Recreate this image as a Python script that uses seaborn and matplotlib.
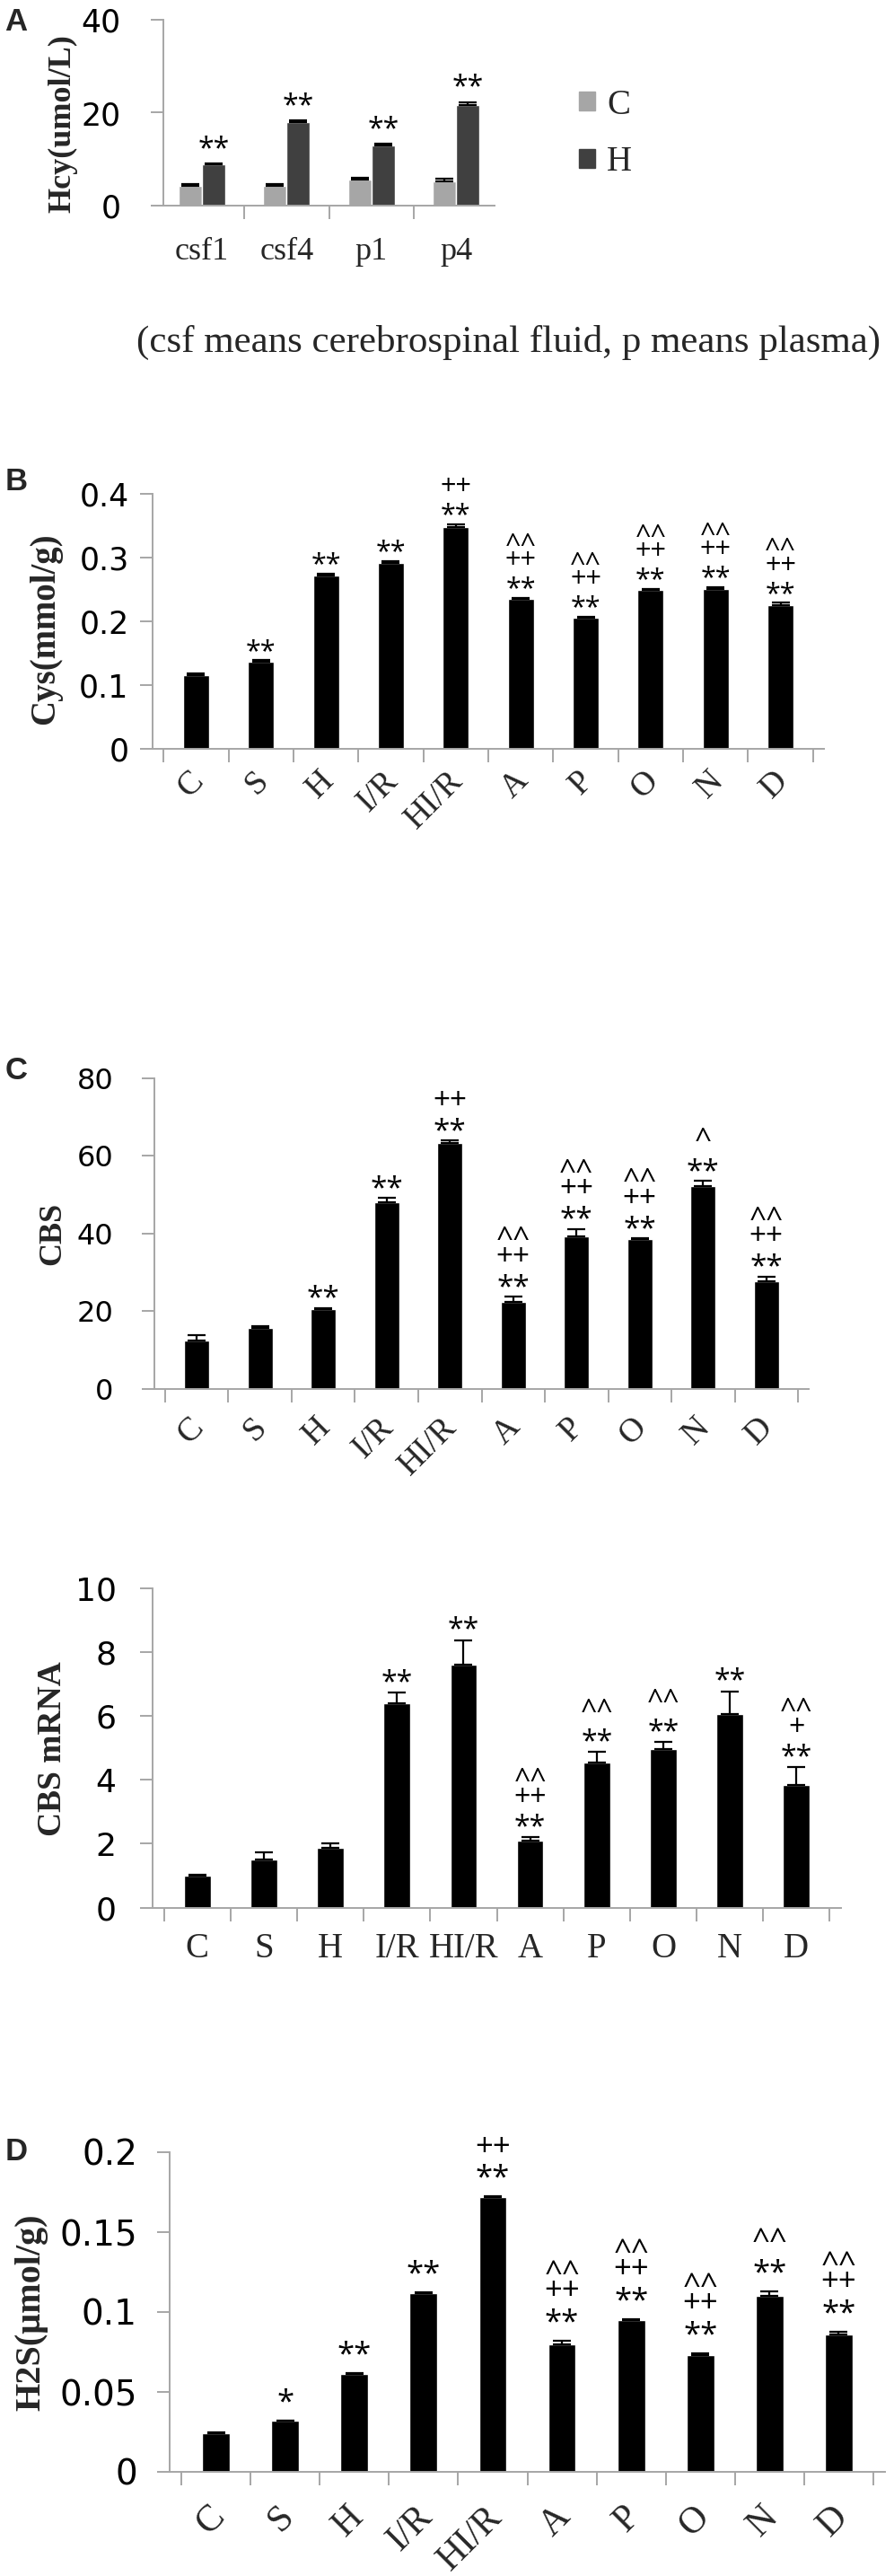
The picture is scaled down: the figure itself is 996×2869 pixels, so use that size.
import numpy as np
import pandas as pd
import matplotlib
matplotlib.use("Agg")
import matplotlib.pyplot as plt
import matplotlib.transforms as mtransforms
from matplotlib.patches import Patch
from matplotlib.font_manager import FontProperties
from matplotlib.textpath import TextPath
import seaborn as sns

sns.set_theme(style="white")
plt.rcParams['font.family'] = ['DejaVu Sans']

SERIF = 'Liberation Serif'
MARK_FONT = 'Open Sans'
W, H = 996, 2869
GRAY = '#a6a6a6'

# ---- panel A data ----
A_SAMPLES = ["csf1", "csf4", "p1", "p4"]
A_C = [4.3, 4.3, 5.7, 5.2]
A_C_ERR = [0.25, 0.25, 0.25, 0.6]
A_H = [8.8, 17.9, 12.9, 21.7]
A_H_ERR = [0.25, 0.45, 0.4, 0.6]
A_SIG = ["**", "**", "**", "**"]
A_YTICKS = [0, 20, 40]
A_CAPTION = "(csf means cerebrospinal fluid, p means plasma)"

# ---- shared groups ----
GROUPS = ["C", "S", "H", "I/R", "HI/R", "A", "P", "O", "N", "D"]

# ---- panel B: Cys ----
B_VALUES = [0.116, 0.136, 0.272, 0.292, 0.348, 0.235, 0.205, 0.249, 0.251, 0.226]
B_ERR = [0.002, 0.003, 0.003, 0.003, 0.004, 0.002, 0.002, 0.002, 0.003, 0.003]
B_SIG = ["", "**", "**", "**", "++\n**", "^^\n++\n**", "^^\n++\n**",
         "^^\n++\n**", "^^\n++\n**", "^^\n++\n**"]
B_YTICKS = [0, 0.1, 0.2, 0.3, 0.4]
B_YLABELS = ["0", "0.1", "0.2", "0.3", "0.4"]

# ---- panel C: CBS ----
C_VALUES = [12.5, 15.7, 20.5, 48.0, 63.3, 22.3, 39.2, 38.5, 52.1, 27.7]
C_ERR = [1.4, 0.5, 0.4, 1.1, 0.6, 1.5, 2.0, 0.3, 1.4, 1.2]
C_SIG = ["", "", "**", "**", "++\n**", "^^\n++\n**", "^^\n++\n**",
         "^^\n++\n**", "^\n**", "^^\n++\n**"]
C_YTICKS = [0, 20, 40, 60, 80]

# ---- panel C (lower): CBS mRNA ----
M_VALUES = [1.0, 1.5, 1.88, 6.39, 7.6, 2.1, 4.55, 4.95, 6.05, 3.84]
M_ERR = [0.03, 0.23, 0.14, 0.33, 0.77, 0.1, 0.33, 0.23, 0.72, 0.55]
M_SIG = ["", "", "", "**", "**", "^^\n++\n**", "^^\n**", "^^\n**", "**", "^^\n+\n**"]
M_YTICKS = [0, 2, 4, 6, 8, 10]

# ---- panel D: H2S ----
D_VALUES = [0.024, 0.0318, 0.0614, 0.112, 0.1718, 0.080, 0.095, 0.0732, 0.110, 0.0857]
D_ERR = [0.0005, 0.0005, 0.0005, 0.0005, 0.0005, 0.002, 0.0005, 0.001, 0.003, 0.002]
D_SIG = ["", "*", "**", "**", "++\n**", "^^\n++\n**", "^^\n++\n**",
         "^^\n++\n**", "^^\n**", "^^\n++\n**"]
D_YTICKS = [0, 0.05, 0.1, 0.15, 0.2]
D_YLABELS = ["0", "0.05", "0.1", "0.15", "0.2"]

MARK_PROP = FontProperties(family=MARK_FONT)
_lp = TextPath((0, 0), "lp", size=1, prop=MARK_PROP).get_extents()
LP_ASC, LP_DESC = _lp.y1, -_lp.y0


def ink_mid(glyph):
    # vertical middle of a glyph's ink, in em
    ext = TextPath((0, 0), glyph, size=1, prop=MARK_PROP).get_extents()
    return (ext.y0 + ext.y1) / 2


def px_rect(left, right, y_zero, y_top):
    return [left / W, 1 - y_zero / H, (right - left) / W, (y_zero - y_top) / H]


def style_axis(ax, n, yticks, ylabels, ysize, ypad):
    for side in ['top', 'right']:
        ax.spines[side].set_visible(False)
    for side in ['left', 'bottom']:
        ax.spines[side].set_color(GRAY)
        ax.spines[side].set_linewidth(1.4)
    ax.set_yticks(yticks, ylabels)
    ax.set_ylim(yticks[0], yticks[-1])
    ax.set_xticks(np.arange(n + 1) - 0.5, minor=True)
    ax.tick_params(axis='y', left=True, direction='out', length=10, width=1.4,
                   color=GRAY, labelsize=ysize, pad=ypad, labelcolor='black')
    ax.tick_params(axis='x', which='major', bottom=True, length=0)
    ax.tick_params(axis='x', which='minor', bottom=True, direction='out',
                   length=11, width=1.4, color=GRAY)
    ax.set_xlabel('')
    ax.set_ylabel('')


def set_xlabels(fig, ax, labels, size, pad, rotate=False, dx=0):
    ax.set_xticks(np.arange(len(labels)), labels)
    ax.tick_params(axis='x', which='major', pad=pad, labelsize=size)
    offset = mtransforms.ScaledTranslation(dx / 100, 0, fig.dpi_scale_trans)
    for lab in ax.get_xticklabels():
        lab.set_fontfamily(SERIF)
        if rotate:
            lab.set_rotation(45)
            lab.set_ha('right')
            lab.set_va('center')
            lab.set_rotation_mode('anchor')
            lab.set_transform(lab.get_transform() + offset)


def add_errors(ax, bars, errs):
    xs = [b.get_x() + b.get_width() / 2 for b in bars]
    tops = [b.get_height() for b in bars]
    ax.errorbar(xs, tops, yerr=[np.zeros(len(errs)), errs], fmt='none',
                ecolor='black', elinewidth=1.6, capsize=7, capthick=1.6, zorder=3)
    return xs, [t + e for t, e in zip(tops, errs)]


def add_marks(ax, xs, tops, sigs, size, first, g1, g2):
    # first: px from error-bar top to the centre of the lowest mark line
    # g1: px between lowest and second line centres, g2: between the upper ones
    f = size * 100 / 72
    kw = dict(textcoords='offset pixels', ha='center', fontsize=size,
              family=MARK_FONT, color='black')
    for x, top, sig in zip(xs, tops, sigs):
        if not sig:
            continue
        lines = sig.split("\n")
        low = lines[-1]
        base0 = first - ink_mid(low[0]) * f
        ax.annotate(low, (x, top), xytext=(0, base0), va='baseline', **kw)
        rest = lines[:-1]
        if not rest:
            continue
        want = first + g1 - ink_mid(rest[-1][0]) * f
        base1 = max(want, base0 + (LP_ASC + LP_DESC) * f + 1)
        spacing = 1.0
        if len(rest) > 1:
            step = g2 - (ink_mid(rest[0][0]) - ink_mid(rest[1][0])) * f
            spacing = (step - LP_DESC * f) / (LP_ASC * f)
        ax.annotate("\n".join(rest), (x, top), xytext=(0, base1 - LP_DESC * f),
                    va='bottom', multialignment='center', linespacing=spacing, **kw)


def bar_panel(fig, rect, values, errs, sigs, yticks, ylabels, ysize, ypad,
              xsize, xpad, rotate, dx, msize, first, g1, g2):
    ax = fig.add_axes(rect)
    df = pd.DataFrame({'group': GROUPS, 'value': values})
    sns.barplot(data=df, x='group', y='value', color='black', saturation=1,
                width=0.4, errorbar=None, ax=ax)
    style_axis(ax, len(GROUPS), yticks, ylabels, ysize, ypad)
    set_xlabels(fig, ax, GROUPS, xsize, xpad, rotate=rotate, dx=dx)
    xs, tops = add_errors(ax, ax.containers[0], errs)
    add_marks(ax, xs, tops, sigs, msize, first, g1, g2)
    return ax


def side_text(fig, x, y, text, size, rotation=0, bold=True, family=SERIF):
    fig.text(x / W, 1 - y / H, text, rotation=rotation, ha='center', va='center',
             fontsize=size, family=family, fontweight='bold' if bold else 'normal')


fig = plt.figure(figsize=(W / 100, H / 100), dpi=100)

# ---------------- panel A ----------------
ax_a = fig.add_axes(px_rect(182, 551, 229, 22))
df_a = pd.DataFrame({'sample': A_SAMPLES * 2,
                     'group': ['C'] * len(A_SAMPLES) + ['H'] * len(A_SAMPLES),
                     'value': A_C + A_H})
sns.barplot(data=df_a, x='sample', y='value', hue='group',
            palette={'C': '#a6a6a6', 'H': '#404040'}, saturation=1,
            width=0.55, errorbar=None, legend=False, ax=ax_a)
style_axis(ax_a, len(A_SAMPLES), A_YTICKS, [str(t) for t in A_YTICKS], 25, 24)
set_xlabels(fig, ax_a, A_SAMPLES, 26, 25)
add_errors(ax_a, ax_a.containers[0], A_C_ERR)
xs_h, tops_h = add_errors(ax_a, ax_a.containers[1], A_H_ERR)
add_marks(ax_a, xs_h, tops_h, A_SIG, 23, 24, 22, 22)
ax_a.legend([Patch(color='#a6a6a6'), Patch(color='#404040')], ['C', 'H'],
            loc='center left', bbox_to_anchor=(645 / W, 1 - 149 / H),
            bbox_transform=fig.transFigure, frameon=False, borderpad=0,
            borderaxespad=0, handlelength=0.45, handleheight=0.45,
            handletextpad=0.35, labelspacing=0.68,
            prop={'family': SERIF, 'size': 28})
side_text(fig, 70, 138, 'Hcy(umol/L)', 26, rotation=90)
side_text(fig, 18, 25, 'A', 25, family='Liberation Sans')
side_text(fig, 567, 381, A_CAPTION, 31, bold=False)

# ---------------- panel B ----------------
bar_panel(fig, px_rect(170, 918, 834, 550), B_VALUES, B_ERR, B_SIG,
          B_YTICKS, B_YLABELS, 25, 9, 27, 22, True, 3, 22, 18, 19, 22)
side_text(fig, 51, 700, 'Cys(mmol/g)', 28, rotation=90)
side_text(fig, 18, 537, 'B', 25, family='Liberation Sans')

# ---------------- panel C ----------------
bar_panel(fig, px_rect(172, 901, 1547, 1200.6), C_VALUES, C_ERR, C_SIG,
          C_YTICKS, [str(t) for t in C_YTICKS], 23, 23, 27, 27, True, 2, 24, 19, 24, 23)
side_text(fig, 59, 1374, 'CBS', 26, rotation=90)
side_text(fig, 18, 1193, 'C', 25, family='Liberation Sans')

bar_panel(fig, px_rect(170, 937, 2124.6, 1768.6), M_VALUES, M_ERR, M_SIG,
          M_YTICKS, [str(t) for t in M_YTICKS], 26, 19, 28, 20, False, 0, 23, 19, 22, 22)
side_text(fig, 59, 1948, 'CBS mRNA', 27, rotation=90)

# ---------------- panel D ----------------
bar_panel(fig, px_rect(189, 986, 2753, 2397), D_VALUES, D_ERR, D_SIG,
          D_YTICKS, D_YLABELS, 28, 16, 30, 32, True, 4, 25, 29, 24, 25)
side_text(fig, 35, 2575, 'H2S(μmol/g)', 29, rotation=90)
side_text(fig, 18, 2397, 'D', 25, family='Liberation Sans')

fig.savefig('out.png', dpi=100)
